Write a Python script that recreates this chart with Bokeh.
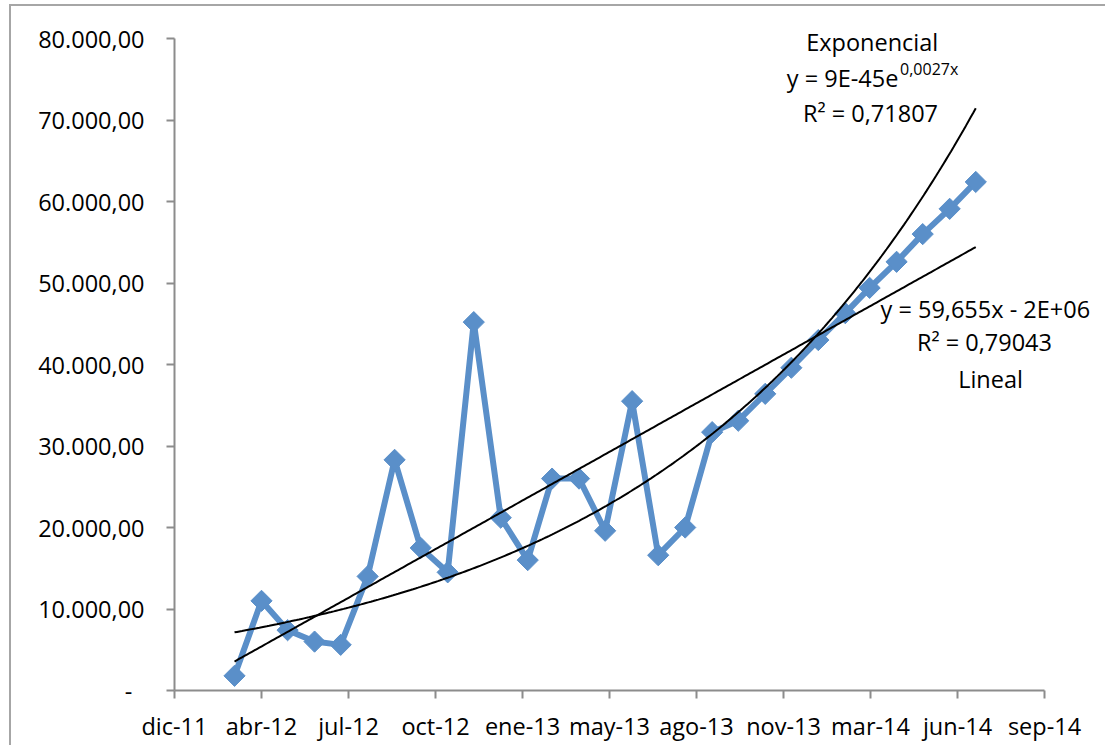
import numpy as np
import pandas as pd
from bokeh.plotting import figure
from bokeh.models import FixedTicker, Label
from bokeh.embed import file_html
from bokeh.resources import INLINE

# ---------------- data ----------------
months = ["2012-03-01", "2012-04-01", "2012-05-01", "2012-06-01", "2012-07-01",
          "2012-08-01", "2012-09-01", "2012-10-01", "2012-11-01", "2012-12-01",
          "2013-01-01", "2013-02-01", "2013-03-01", "2013-04-01", "2013-05-01",
          "2013-06-01", "2013-07-01", "2013-08-01", "2013-09-01", "2013-10-01",
          "2013-11-01", "2013-12-01", "2014-01-01", "2014-02-01", "2014-03-01",
          "2014-04-01", "2014-05-01", "2014-06-01", "2014-07-01"]
values = [1800, 11000, 7400, 6000, 5600,
          14000, 28300, 17500, 14500, 45200,
          21200, 16000, 26000, 26000, 19600,
          35500, 16600, 20000, 31700, 33100,
          36400, 39600, 43000, 46300, 49400,
          52600, 56000, 59100, 62400]

# Excel date serials used on the x axis
x_tick_serials = [40900, 41000, 41100, 41200, 41300, 41400, 41500, 41600, 41700, 41800, 41900]
x_tick_labels = ["dic-11", "abr-12", "jul-12", "oct-12", "ene-13", "may-13",
                 "ago-13", "nov-13", "mar-14", "jun-14", "sep-14"]
y_ticks = [0, 10000, 20000, 30000, 40000, 50000, 60000, 70000, 80000]
y_tick_labels = ["-\u00a0\u00a0", "10.000,00", "20.000,00", "30.000,00", "40.000,00",
                 "50.000,00", "60.000,00", "70.000,00", "80.000,00"]

exp_title = "Exponencial"
exp_eq = "y = 9E-45e"
exp_sup = "0,0027x"
exp_r2 = "R² = 0,71807"
lin_eq = "y = 59,655x - 2E+06"
lin_r2 = "R² = 0,79043"
lin_title = "Lineal"

# ---------------- derived ----------------
serial = np.array((pd.to_datetime(months) - pd.Timestamp("1899-12-30")).days, dtype=float)
vals = np.array(values, dtype=float)
lin_fit = np.polyfit(serial, vals, 1)
exp_fit = np.polyfit(serial, np.log(vals), 1)
xs = np.linspace(serial[0], serial[-1], 300)
lin_y = np.polyval(lin_fit, xs)
exp_y = np.exp(np.polyval(exp_fit, xs))

# ---------------- layout ----------------
AXIS_W, AXIS_H = 870, 652          # pixel length of the drawn axes
EXTRA_R, EXTRA_T = 56, 16          # frame extends beyond axes so labels aren't clipped
x_per_px = (x_tick_serials[-1] - x_tick_serials[0]) / AXIS_W
y_per_px = (y_ticks[-1] - y_ticks[0]) / AXIS_H
x_end = x_tick_serials[-1] + EXTRA_R * x_per_px
y_end = y_ticks[-1] + EXTRA_T * y_per_px

FONT = "Open Sans"
FS = "23.5px"
BLUE = "#5A8FC9"
AXIS = "#8C8C8C"

p = figure(width=1105, height=745, output_backend="svg", toolbar_location=None,
           x_range=(x_tick_serials[0], x_end), y_range=(y_ticks[0], y_end),
           frame_width=AXIS_W + EXTRA_R, frame_height=AXIS_H + EXTRA_T,
           min_border_left=174, min_border_right=5,
           min_border_top=38 - EXTRA_T, min_border_bottom=55)
p.outline_line_color = None
p.xgrid.visible = False
p.ygrid.visible = False
p.background_fill_color = "white"
p.border_fill_color = None
p.styles = {"box-shadow": "inset 9px 4px 0 0 white, inset 11px 6px 0 0 #A6A6A6",
            "background": "white"}

p.xaxis.ticker = FixedTicker(ticks=x_tick_serials)
p.xaxis.major_label_overrides = {t: l for t, l in zip(x_tick_serials, x_tick_labels)}
p.xaxis.bounds = (x_tick_serials[0], x_tick_serials[-1])
p.yaxis.ticker = FixedTicker(ticks=y_ticks)
p.yaxis.major_label_overrides = {t: l for t, l in zip(y_ticks, y_tick_labels)}
p.yaxis.bounds = (y_ticks[0], y_ticks[-1])
for ax in (p.xaxis, p.yaxis):
    ax.axis_line_color = AXIS
    ax.axis_line_width = 2
    ax.major_tick_line_color = AXIS
    ax.major_tick_line_width = 2
    ax.major_tick_in = 0
    ax.major_tick_out = 8
    ax.minor_tick_line_color = None
    ax.major_label_text_font = FONT
    ax.major_label_text_font_size = FS
    ax.major_label_text_color = "black"
p.xaxis.major_label_standoff = 11
p.yaxis.major_label_standoff = 22

# series
p.line(serial, vals, line_color=BLUE, line_width=6)
p.scatter(serial, vals, marker="square", angle=np.pi / 4, size=15,
          fill_color=BLUE, line_color=BLUE, line_width=1)

# trendlines
p.line(xs, exp_y, line_color="black", line_width=2)
p.line(xs, lin_y, line_color="black", line_width=2)

def lab(x, y, text, align="center", size=FS, baseline="middle"):
    p.add_layout(Label(x=x, y=y, text=text, text_align=align, text_baseline=baseline,
                       text_font=FONT, text_font_size=size, text_color="black"))

lab(41702, 79600, exp_title)
lab(41732, 75200, exp_eq, align="right")
lab(41734, 76300, exp_sup, align="left", size="16px")
lab(41700, 70900, exp_r2)
lab(41832, 46750, lin_eq)
lab(41831, 42800, lin_r2)
lab(41838, 38200, lin_title)

open("out.html", "w").write(file_html(p, INLINE))
